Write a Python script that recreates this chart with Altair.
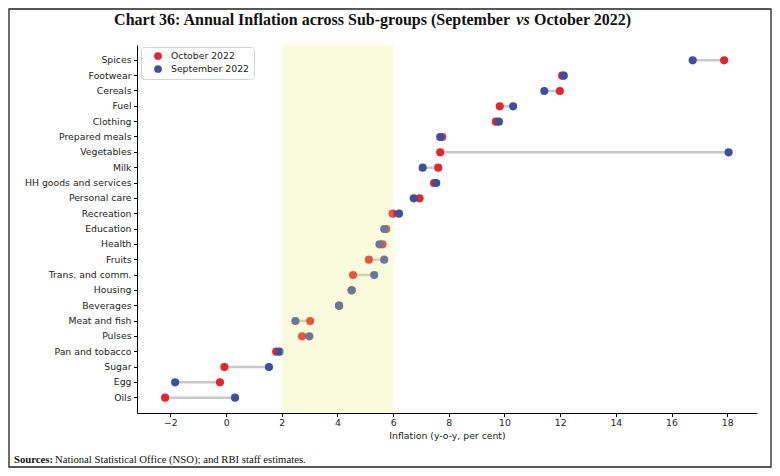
import altair as alt
import pandas as pd

categories = ["Spices", "Footwear", "Cereals", "Fuel", "Clothing", "Prepared meals",
              "Vegetables", "Milk", "HH goods and services", "Personal care", "Recreation",
              "Education", "Health", "Fruits", "Trans. and comm.", "Housing", "Beverages",
              "Meat and fish", "Pulses", "Pan and tobacco", "Sugar", "Egg", "Oils"]
october = [17.89, 12.07, 11.99, 9.83, 9.69, 7.76, 7.69, 7.62, 7.47, 6.95, 5.98,
           5.75, 5.62, 5.13, 4.56, 4.51, 4.06, 3.02, 2.73, 1.80, -0.06, -0.22, -2.19]
september = [16.76, 12.13, 11.43, 10.31, 9.80, 7.69, 18.05, 7.06, 7.55, 6.74, 6.21,
             5.68, 5.51, 5.68, 5.32, 4.51, 4.06, 2.49, 2.99, 1.92, 1.54, -1.83, 0.32]
series_names = ["October 2022", "September 2022"]
series_colors = ["#E8232A", "#3D50A0"]
band = [2, 6]
x_ticks = [-2, 0, 2, 4, 6, 8, 10, 12, 14, 16, 18]
x_domain = [-3.2, 19.07]

W, H = 620, 368
PL, PT, PR, PB = 129, 37, 15, 55

wide = pd.DataFrame({"cat": categories, "oct": october, "sep": september})
long = pd.concat([
    pd.DataFrame({"cat": categories, "value": october, "series": series_names[0], "rank": 0}),
    pd.DataFrame({"cat": categories, "value": september, "series": series_names[1], "rank": 1}),
], ignore_index=True)

xscale = alt.Scale(domain=x_domain, nice=False, zero=False)
xaxis = alt.Axis(values=x_ticks, title="Inflation (y-o-y, per cent)", grid=False,
                 domainColor="#000", tickColor="#000", tickSize=3.5, labelPadding=2,
                 labelFont="DejaVu Sans", labelFontSize=9.3, labelColor="#222",
                 titleFont="DejaVu Sans", titleFontSize=9.3, titleFontWeight="normal",
                 titleColor="#222", titlePadding=4, labelFlush=False)
yenc = alt.Y("cat:N", sort=categories, scale=alt.Scale(padding=1),
             axis=alt.Axis(title=None, grid=False, domainColor="#000", tickColor="#000",
                           tickSize=3.5, labelPadding=2.5, labelFont="DejaVu Sans",
                           labelFontSize=9.3, labelColor="#222"))

rules = alt.Chart(wide).mark_rule(color="#c8c8c8", strokeWidth=2.5).encode(
    x=alt.X("oct:Q", scale=xscale, axis=xaxis), x2="sep:Q", y=yenc)

points = alt.Chart(long).mark_circle(size=66, opacity=1).encode(
    x=alt.X("value:Q", scale=xscale, axis=xaxis),
    y=yenc,
    color=alt.Color("series:N", scale=alt.Scale(domain=series_names, range=series_colors),
                    legend=alt.Legend(title=None, orient="none", legendX=4, legendY=2,
                                      fillColor="white", strokeColor="#d5d5d5",
                                      cornerRadius=3, padding=4, symbolType="circle",
                                      symbolSize=60, symbolOffset=8, labelOffset=8,
                                      labelFont="DejaVu Sans", labelFontSize=9.3,
                                      labelColor="#222", rowPadding=2)),
    order=alt.Order("rank:Q"))

band_df = pd.DataFrame({"lo": [band[0]], "hi": [band[1]]})
band_layer = alt.Chart(band_df).mark_rect(color="#EBEB76", opacity=0.26).encode(
    x=alt.X("lo:Q", scale=xscale, axis=xaxis), x2="hi:Q",
    y=alt.value(0), y2=alt.value(H))

one = pd.DataFrame({"k": [0]})
def txt(text, x, y, align, font, size, weight="normal", style="normal"):
    return alt.Chart(one).mark_text(text=text, align=align, baseline="alphabetic",
                                    font=font, fontSize=size, fontWeight=weight,
                                    fontStyle=style, color="#111").encode(
        x=alt.value(x), y=alt.value(y))

title_a = txt("Chart 36: Annual Inflation across Sub-groups (September", 373, -20,
              "right", "Liberation Serif", 16, "bold")
title_b = txt("vs", 386, -20, "center", "Liberation Serif", 16, "bold", "italic")
title_c = txt("October 2022)", 397, -20, "left", "Liberation Serif", 16, "bold")
src_a = txt("Sources:", -123, 418, "left", "Liberation Serif", 10.7, "bold")
src_b = txt("National Statistical Office (NSO); and RBI staff estimates.", -82, 418,
            "left", "Liberation Serif", 10.7)

frame = alt.Chart(one).mark_rect(fillOpacity=0, stroke="#222", strokeWidth=1.3).encode(
    x=alt.value(-PL + 1), x2=alt.value(W + PR - 1),
    y=alt.value(-PT + 1), y2=alt.value(H + PB - 1))

chart = alt.layer(rules, points, band_layer, title_a, title_b, title_c, src_a, src_b, frame).properties(
    width=W, height=H,
    autosize=alt.AutoSizeParams(type="none"),
    padding={"left": PL, "top": PT, "right": PR, "bottom": PB},
).configure_view(strokeWidth=0)

chart.save("out.html", embed_options={"renderer": "svg", "actions": False})
